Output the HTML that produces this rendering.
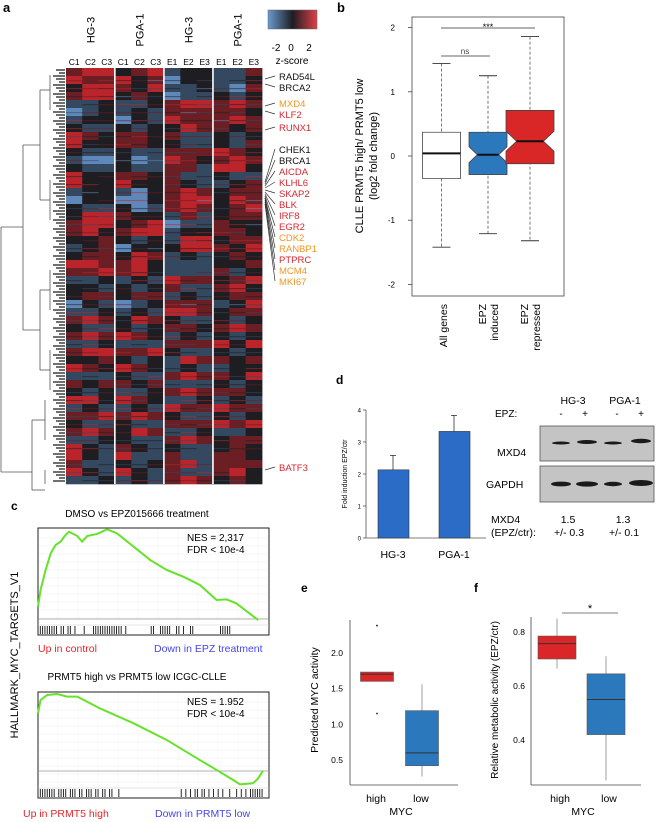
<!DOCTYPE html>
<html><head><meta charset="utf-8"><style>
html,body{margin:0;padding:0;background:#fff;}
svg{display:block;font-family:"Liberation Sans",sans-serif;}
</style></head><body>
<svg id="fig" width="656" height="822" viewBox="0 0 656 822" xmlns="http://www.w3.org/2000/svg">
<g id="pa"></g>
<g id="pb"></g>
<g id="pc"></g>
<g id="pd"></g>
<g id="pe"></g>
<g id="pf"></g>
</svg>
<script>
// ---------- DATA ----------
const heatCols = ['C1','C2','C3','C1','C2','C3','E1','E2','E3','E1','E2','E3'];
const heatGroups = ['HG-3','PGA-1','HG-3','PGA-1'];
const heatRows = [
"rRRkrRbkkbbr","RrrRkrBkkbbk","kRRrkRbbkbBr","rRRkrkBbbkbk","bbkbbkrRRrRr","Bbkbkbrrrrrk",
"bkkBkbRrrrRr","kbbkbkkRrrkr","Rrkrrkrbbkbk","Rkkrrkkbbkbr","kbbkbbrrrRrk","bBBkBbRrkrRr",
"kbbkbbrrbRRk","Rkkrrkrbbkbb","RkkRkkrkbbkr","bkkbBkrRrkrr","BkkBBkrRRkRr","kbbkBbrRrkrR",
"kRRrkkbrbkrr","rRRkrRBbbrkk","rRkrRRbkkrrk","kkrkbkbRRkrr","bkrBkkkRRrkR","krrkRrbkbkrk",
"RRrrRkbbbkkr","rrRrRkbbbrbk","bbkbkbRrrkrR","kkbkbkrbbrRk","krrkrrbkbkrr","BkbBbkrrrbkR",
"bbkbkbRRrkrr","rRrkRrkbbkbk","kbbkbkrrkrRr","rRrRrkbkbkbk","bbkbbbrrrRkR","rRRrrRkbbkbk",
"kkrkbkbRrrkr","RrkRrkbkbbkk","bbbkbbrRrrkR","rkrrkrbbbkbk","kbkbbkrRrrrk","RRkRrkbbkbkb",
"bkbbkbRrrRrr","rrRrRrkbbkbk","kbbkbbrrrRrR","rRrkRrbbkbbk","bbkkbbrRrkrr","Rkbrkbkbbkrk",
"RkbRbbrbbrrk","rbbkbkrRbrrr","RkbRkbrbbrRk","bbkbkbrRrkrk"];
const geneLabels = ['RAD54L','BRCA2','MXD4','KLF2','RUNX1','CHEK1','BRCA1','AICDA','KLHL6','SKAP2','BLK','IRF8','EGR2','CDK2','RANBP1','PTPRC','MCM4','MKI67','BATF3'];
const geneColors = ['k','k','o','r','r','k','k','r','r','r','r','r','r','o','o','r','o','o','r'];

const bCats = ['All genes','EPZ induced','EPZ repressed'];
const bQ1 = [-0.35,-0.29,-0.12];
const bMed = [0.04,0.02,0.23];
const bQ3 = [0.37,0.37,0.71];
const bLo = [-1.42,-1.21,-1.32];
const bHi = [1.44,1.25,1.86];
const bTicks = [-2,-1,0,1,2];

const es1X = [0,0.011,0.033,0.055,0.076,0.098,0.119,0.134,0.170,0.191,0.213,0.256,0.299,0.342,0.414,0.486,0.557,0.629,0.701,0.773,0.816,0.859,0.953];
const es1Y = [0.082,0.193,0.327,0.438,0.493,0.516,0.56,0.582,0.553,0.516,0.553,0.567,0.598,0.571,0.482,0.393,0.327,0.282,0.227,0.127,0.131,0.104,-0.007];
const hits1 = [0.01,0.02,0.03,0.04,0.05,0.06,0.07,0.08,0.1,0.11,0.13,0.14,0.16,0.2,0.24,0.25,0.26,0.27,0.28,0.29,0.3,0.31,0.32,0.33,0.34,0.35,0.36,0.38,0.49,0.5,0.53,0.54,0.55,0.56,0.57,0.6,0.61,0.63,0.66,0.67,0.79,0.8,0.81,0.82,0.83];
const es2X = [0,0.011,0.04,0.083,0.126,0.17,0.27,0.414,0.557,0.701,0.773,0.845,0.874,0.931,0.953,0.974];
const es2Y = [0.385,0.473,0.507,0.513,0.496,0.496,0.416,0.318,0.207,0.073,0.007,-0.06,-0.089,-0.082,-0.049,0.002];
const hits2 = [0.01,0.02,0.03,0.04,0.05,0.06,0.07,0.09,0.1,0.11,0.12,0.14,0.15,0.16,0.18,0.19,0.21,0.22,0.23,0.25,0.26,0.28,0.29,0.31,0.32,0.35,0.62,0.64,0.66,0.68,0.69,0.71,0.72,0.74,0.76,0.78,0.8,0.83,0.86,0.88,0.9,0.92,0.93,0.94,0.95,0.96,0.97];

const dCats = ['HG-3','PGA-1'];
const dVals = [2.13,3.33];
const dErr = [0.45,0.5];
const dTicks = [0,1,2,3,4];

const eCats = ['high','low'];
const eQ1 = [1.6,0.42], eMed=[1.7,0.6], eQ3=[1.73,1.19], eLo=[1.6,0.27], eHi=[1.73,1.56];
const eOut = [[2.38,1.15],[]];
const eTicks = [0.5,1.0,1.5,2.0];

const fCats = ['high','low'];
const fQ1 = [0.70,0.42], fMed=[0.757,0.55], fQ3=[0.785,0.645], fLo=[0.665,0.25], fHi=[0.85,0.71];
const fTicks = [0.4,0.6,0.8];

// ---------- HELPERS ----------
const NS='http://www.w3.org/2000/svg';
function mk(parent,tag,attrs,text){const e=document.createElementNS(NS,tag);for(const k in attrs)e.setAttribute(k,attrs[k]);if(text!==undefined)e.textContent=text;parent.appendChild(e);return e;}
const pa=document.getElementById('pa'),pb=document.getElementById('pb'),pc=document.getElementById('pc'),pd=document.getElementById('pd'),pe=document.getElementById('pe'),pf=document.getElementById('pf');
let el;

// ---------- PANEL A ----------
el=mk(pa,'text',{x:3,y:12,'font-size':13,'font-weight':'bold'},'a');


const cmap={B:'#5f88ba',b:'#34485f',k:'#1d1d22',r:'#6b1e24',R:'#b9252a'};
const hx0=66,hy0=68,hy1=484,colW=16.25;
function colX(i){return hx0+i*colW+Math.floor(i/3)*0.3;}
const rowH=(hy1-hy0)/heatRows.length;
heatRows.forEach((row,ri)=>{
  for(let ci=0;ci<12;ci++){
    el=mk(pa,'rect',{x:colX(ci),y:hy0+ri*rowH,width:colW+0.5,height:rowH+0.3,fill:cmap[row[ci]]});
    
    
    el=mk(pa,'rect',{x:colX(ci),y:hy0+ri*rowH+rowH*0.5,width:colW+0.5,height:1.2,fill:cmap[row[(ci+ri)%12]],opacity:0.5});
    
    
  }
});
[3,6,9].forEach(g=>{el=mk(pa,'rect',{x:colX(g)-1,y:hy0,width:1.6,height:hy1-hy0,fill:'#fff'});

});
heatCols.forEach((c,i)=>{el=mk(pa,'text',{x:colX(i)+colW/2,y:65,'font-size':8.5,'text-anchor':'middle'},c);

});
heatGroups.forEach((g,i)=>{const cx=colX(i*3)+colW*1.5+4;el=mk(pa,'text',{x:0,y:0,'font-size':11,'text-anchor':'middle',transform:`translate(${cx},${30}) rotate(-90)`},g);

});
// color key
const grad=mk(document.getElementById('fig'),'defs',{});
const lg=mk(grad,'linearGradient',{id:'zg',x1:0,x2:1,y1:0,y2:0});
mk(lg,'stop',{offset:'0','stop-color':'#6a9ad0'});mk(lg,'stop',{offset:'0.5','stop-color':'#1d1d22'});mk(lg,'stop',{offset:'1','stop-color':'#e04048'});
el=mk(pa,'rect',{x:268,y:10,width:49,height:19,fill:'url(#zg)',stroke:'#666','stroke-width':0.5});


[[-2,276],[0,291],[2,309]].forEach(([v,x])=>{el=mk(pa,'text',{x:x,y:51,'font-size':10,'text-anchor':'middle'},String(v));

});
el=mk(pa,'text',{x:292,y:64,'font-size':10,'text-anchor':'middle'},'z-score');


// dendrogram
const dend=[[1,227,1,472],[1,227,23,227],[1,472,32,472],[23,145,23,330],[23,145,40,145],[23,330,40,330],[40,90,40,200],[40,90,50,90],[40,200,50,200],[40,290,40,370],[40,290,50,290],[40,370,50,370],[32,420,32,490],[32,420,45,420],[32,490,45,490],[45,400,45,440],[45,470,45,484],[50,75,50,110],[50,180,50,220],[50,270,50,310],[50,350,50,390]];
dend.forEach(d=>{el=mk(pa,'line',{x1:d[0],y1:d[1],x2:d[2],y2:d[3],stroke:'#555','stroke-width':0.8});

});
for(let y=70;y<484;y+=3){el=mk(pa,'line',{x1:52+((y*7)%9),y1:y,x2:65,y2:y,stroke:'#111','stroke-width':1.2});

}
// gene labels
const gy=[79,90,106,117,130,152,163,174,185,196,207,218,229,240,251,262,273,284,470];
const gAnchor=[79,84,106,111,130,182,184,186,188,190,192,194,196,198,198,200,202,204,470];
const gcol={k:'#111',r:'#d9262e',o:'#f39524'};
geneLabels.forEach((g,i)=>{
  el=mk(pa,'line',{x1:265,y1:gAnchor[i],x2:275,y2:gy[i]-3,stroke:'#333','stroke-width':0.7});
  
  
  el=mk(pa,'text',{x:279,y:gy[i]+1,'font-size':9.5,fill:gcol[geneColors[i]]},g);
  
  
});

// ---------- PANEL B ----------
el=mk(pb,'text',{x:337,y:12,'font-size':13,'font-weight':'bold'},'b');


const bY=v=>156-v*64.2;
const bCx=[441.5,488,530];const bW=[38,38,48];const bFill=['#fff','#2b78bd','#d92727'];
el=mk(pb,'rect',{x:412,y:17,width:152,height:279,fill:'none',stroke:'#444','stroke-width':0.8});


bTicks.forEach(t=>{mk(pb,'line',{x1:408,x2:412,y1:bY(t),y2:bY(t),stroke:'#444','stroke-width':0.8});
el=mk(pb,'text',{x:395,y:bY(t)+3,'font-size':8,'text-anchor':'end'},String(t));

});
bCats.forEach((c,i)=>{
  const cx=bCx[i],w=bW[i];
  el=mk(pb,'line',{x1:cx,x2:cx,y1:bY(bHi[i]),y2:bY(bLo[i]),stroke:'#555','stroke-dasharray':'3,2','stroke-width':0.8});
  
  
  [bHi[i],bLo[i]].forEach(v=>{mk(pb,'line',{x1:cx-9,x2:cx+9,y1:bY(v),y2:bY(v),stroke:'#333','stroke-width':0.9});});
  const x0=cx-w/2,x1=cx+w/2,n=i==0?0:w*0.22;
  const q3=bY(bQ3[i]),q1=bY(bQ1[i]),m=bY(bMed[i]),nh=i==0?0:(i==1?8:10);
  el=mk(pb,'path',{d:`M${x0},${q3}L${x1},${q3}L${x1},${m-nh}L${x1-n},${m}L${x1},${m+nh}L${x1},${q1}L${x0},${q1}L${x0},${m+nh}L${x0+n},${m}L${x0},${m-nh}Z`,fill:bFill[i],stroke:'#444','stroke-width':0.8});
  
  
  el=mk(pb,'line',{x1:x0+n,x2:x1-n,y1:m,y2:m,stroke:'#111','stroke-width':2});
  
  
  const parts=c.split(' ');
  parts.forEach((p,j)=>{const tx=cx+(j-(parts.length-1)/2)*12+4;
    el=mk(pb,'text',{x:0,y:0,'font-size':10.5,'text-anchor':'end',transform:`translate(${tx},304) rotate(-90)`},c=='All genes'?c:p);
    
    });
  if(c=='All genes'){}
});
// fix "All genes" duplicated: remove extra
(function(){const ts=[...pb.querySelectorAll('text')].filter(t=>t.textContent=='All genes');if(ts.length>1){ts[1].remove();ts[0].setAttribute('transform','translate(447,304) rotate(-90)');}})();
el=mk(pb,'line',{x1:441,x2:535,y1:28,y2:28,stroke:'#333','stroke-width':0.8});


el=mk(pb,'text',{x:488,y:30,'font-size':9,'text-anchor':'middle'},'***');


el=mk(pb,'line',{x1:441,x2:490,y1:56,y2:56,stroke:'#333','stroke-width':0.8});


el=mk(pb,'text',{x:465,y:54,'font-size':8,'text-anchor':'middle',fill:'#444'},'ns');


el=mk(pb,'text',{x:0,y:0,'font-size':11,'text-anchor':'middle',transform:'translate(363,156) rotate(-90)'},'CLLE PRMT5 high/ PRMT5 low');


el=mk(pb,'text',{x:0,y:0,'font-size':11,'text-anchor':'middle',transform:'translate(377,156) rotate(-90)'},'(log2 fold change)');



// ---------- PANEL C ----------
el=mk(pc,'text',{x:11,y:510,'font-size':12,'font-weight':'bold'},'c');


el=mk(pc,'text',{x:0,y:0,'font-size':11,'text-anchor':'middle',transform:'translate(18,655) rotate(-90)'},'HALLMARK_MYC_TARGETS_V1');


function gsea(top,bot,zeroY,title,titleY,nes,fdr,hx,hy,hits,lab1,lab2,labY){
  const x0=38,x1=269;
  el=mk(pc,'text',{x:137,y:titleY,'font-size':10,'text-anchor':'middle'},title);
  
  
  for(let g=top+10;g<bot-14;g+=8){mk(pc,'line',{x1:x0,x2:x1,y1:g,y2:g,stroke:'#eee','stroke-width':0.5});}
  for(let g=x0+20;g<x1;g+=20){mk(pc,'line',{x1:g,x2:g,y1:top,y2:bot-14,stroke:'#f0f0f0','stroke-width':0.5});}
  el=mk(pc,'rect',{x:x0,y:top,width:x1-x0,height:bot-top,fill:'none',stroke:'#222','stroke-width':1});
  
  
  mk(pc,'line',{x1:x0,x2:x1,y1:zeroY,y2:zeroY,stroke:'#999','stroke-width':0.7});
  mk(pc,'line',{x1:x0,x2:x1,y1:bot-10,y2:bot-10,stroke:'#ccc','stroke-width':0.6});
  const X=f=>x0+f*(x1-x0),Y=v=>zeroY-v*150;
  el=mk(pc,'polyline',{points:hx.map((f,i)=>X(f)+','+Y(hy[i])).join(' '),fill:'none',stroke:'#66e22a','stroke-width':2});
  
  
  hits.forEach(h=>{el=mk(pc,'line',{x1:X(h),x2:X(h),y1:bot-9,y2:bot-1,stroke:'#111','stroke-width':0.9});
  
  });
  el=mk(pc,'text',{x:187,y:top+13,'font-size':10},nes);
  
  
  el=mk(pc,'text',{x:187,y:top+25,'font-size':10},fdr);
  
  
  el=mk(pc,'text',{x:lab1[1],y:labY,'font-size':10.5,fill:'#e3262a'},lab1[0]);
  
  
  el=mk(pc,'text',{x:lab2[1],y:labY,'font-size':10.5,fill:'#4646f0'},lab2[0]);
  
  
}
gsea(528,635,619,'DMSO vs EPZ015666 treatment',517,'NES = 2,317','FDR < 10e-4',es1X,es1Y,hits1,['Up in control',38],['Down in EPZ treatment',154],652);
gsea(692,798,771,'PRMT5 high vs PRMT5 low ICGC-CLLE',680,'NES = 1.952','FDR < 10e-4',es2X,es2Y,hits2,['Up in PRMT5 high',23],['Down in PRMT5 low',155],817);

// ---------- PANEL D ----------
el=mk(pd,'text',{x:336,y:384,'font-size':12,'font-weight':'bold'},'d');


const dY=v=>538-v*32;
mk(pd,'line',{x1:366,x2:366,y1:dY(4),y2:dY(0),stroke:'#555','stroke-width':0.8});
mk(pd,'line',{x1:366,x2:486,y1:dY(0),y2:dY(0),stroke:'#555','stroke-width':0.8});
dTicks.forEach(t=>{mk(pd,'line',{x1:363,x2:366,y1:dY(t),y2:dY(t),stroke:'#555','stroke-width':0.8});
el=mk(pd,'text',{x:361,y:dY(t)+2.5,'font-size':6,'text-anchor':'end'},String(t));

});
const dCx=[393,454];
dCats.forEach((c,i)=>{
  el=mk(pd,'rect',{x:dCx[i]-15,y:dY(dVals[i]),width:31,height:dY(0)-dY(dVals[i]),fill:'#2a6cc6',stroke:'#333','stroke-width':0.6});
  
  
  el=mk(pd,'line',{x1:dCx[i],x2:dCx[i],y1:dY(dVals[i]),y2:dY(dVals[i]+dErr[i]),stroke:'#333','stroke-width':0.8});
  
  
  mk(pd,'line',{x1:dCx[i]-3,x2:dCx[i]+3,y1:dY(dVals[i]+dErr[i]),y2:dY(dVals[i]+dErr[i]),stroke:'#333','stroke-width':0.8});
  el=mk(pd,'text',{x:dCx[i],y:558,'font-size':10.5,'text-anchor':'middle'},c);
  
  
});
el=mk(pd,'text',{x:0,y:0,'font-size':7,'text-anchor':'middle',transform:'translate(347,474) rotate(-90)'},'Fold induction EPZ/ctr');


// blot
[['HG-3',573],['PGA-1',625]].forEach(([t,x])=>{el=mk(pd,'text',{x:x,y:404,'font-size':10.5,'text-anchor':'middle'},t);

});
el=mk(pd,'text',{x:495,y:417,'font-size':10},'EPZ:');


[['-',561],['+',585],['-',617],['+',641]].forEach(([t,x])=>{el=mk(pd,'text',{x:x,y:417,'font-size':10,'text-anchor':'middle'},t);

});
el=mk(pd,'rect',{x:540,y:426,width:114,height:35,fill:'#c4c4c4',stroke:'#555','stroke-width':0.8});


el=mk(pd,'rect',{x:540,y:466,width:114,height:36,fill:'#c4c4c4',stroke:'#555','stroke-width':0.8});


[[561,443,9,1.5],[587,442,10,2],[613,443,9,1.5],[641,441,10,2.2],[561,484,10,2.4],[587,484,11,2.6],[613,484,9,2.2],[641,483,12,3]].forEach(b=>{
  el=mk(pd,'ellipse',{cx:b[0],cy:b[1],rx:b[2],ry:b[3],fill:'#1a1a1a'});
  
  });
el=mk(pd,'text',{x:497,y:456,'font-size':10.5},'MXD4');


el=mk(pd,'text',{x:486,y:488,'font-size':10.5},'GAPDH');


[['MXD4',491,523],['(EPZ/ctr):',491,536],['1.5',568,523],['+/- 0.3',569,536],['1.3',623,523],['+/- 0.1',624,536]].forEach(([t,x,y])=>{
  el=mk(pd,'text',{x:x,y:y,'font-size':10.5,'text-anchor':x>500?'middle':'start'},t);
  
  });

// ---------- PANEL E ----------
el=mk(pe,'text',{x:301,y:592,'font-size':12,'font-weight':'bold'},'e');


const eY=v=>760-(v-0.5)*71.5;
const eCx=[377,422],eFill=['#da2628','#2c78bd'];
mk(pe,'line',{x1:350,x2:350,y1:620,y2:785,stroke:'#444','stroke-width':0.8});
mk(pe,'line',{x1:350,x2:458,y1:785,y2:785,stroke:'#444','stroke-width':0.8});
eTicks.forEach(t=>{el=mk(pe,'text',{x:343,y:eY(t)+3,'font-size':8.5,'text-anchor':'end'},t.toFixed(1));

});
eCats.forEach((c,i)=>{
  const cx=eCx[i];
  el=mk(pe,'line',{x1:cx,x2:cx,y1:eY(eHi[i]),y2:eY(eLo[i]),stroke:'#888','stroke-width':0.8});
  
  
  el=mk(pe,'rect',{x:cx-16.5,y:eY(eQ3[i]),width:33,height:eY(eQ1[i])-eY(eQ3[i]),fill:eFill[i],stroke:'#555','stroke-width':0.6});
  
  
  el=mk(pe,'line',{x1:cx-16.5,x2:cx+16.5,y1:eY(eMed[i]),y2:eY(eMed[i]),stroke:'#333','stroke-width':1});
  
  
  eOut[i].forEach(o=>{el=mk(pe,'circle',{cx:cx,cy:eY(o),r:0.9,fill:'#222'});
  
  });
  el=mk(pe,'text',{x:cx-1,y:802,'font-size':10.5,'text-anchor':'middle'},c);
  
  
});
el=mk(pe,'text',{x:401,y:815,'font-size':10.5,'text-anchor':'middle'},'MYC');


el=mk(pe,'text',{x:0,y:0,'font-size':10.5,'text-anchor':'middle',transform:'translate(318,700) rotate(-90)'},'Predicted MYC activity');



// ---------- PANEL F ----------
el=mk(pf,'text',{x:474,y:592,'font-size':12,'font-weight':'bold'},'f');


const fY=v=>686-(v-0.6)*270;
const fCx=[557,606];
mk(pf,'line',{x1:531,x2:531,y1:617,y2:785,stroke:'#444','stroke-width':0.8});
mk(pf,'line',{x1:531,x2:641,y1:785,y2:785,stroke:'#444','stroke-width':0.8});
fTicks.forEach(t=>{el=mk(pf,'text',{x:525,y:fY(t)+3,'font-size':8.5,'text-anchor':'end'},t.toFixed(1));

});
fCats.forEach((c,i)=>{
  const cx=fCx[i];
  el=mk(pf,'line',{x1:cx,x2:cx,y1:Math.max(617,fY(fHi[i])),y2:fY(fLo[i]),stroke:'#888','stroke-width':0.8});
  
  
  el=mk(pf,'rect',{x:cx-19,y:fY(fQ3[i]),width:38,height:fY(fQ1[i])-fY(fQ3[i]),fill:eFill[i],stroke:'#555','stroke-width':0.6});
  
  
  el=mk(pf,'line',{x1:cx-19,x2:cx+19,y1:fY(fMed[i]),y2:fY(fMed[i]),stroke:'#333','stroke-width':1});
  
  
  el=mk(pf,'text',{x:cx+3,y:802,'font-size':10.5,'text-anchor':'middle'},c);
  
  
});
el=mk(pf,'line',{x1:562,x2:618,y1:613,y2:613,stroke:'#555','stroke-width':0.8});


el=mk(pf,'text',{x:590,y:612,'font-size':11,'text-anchor':'middle'},'*');


el=mk(pf,'text',{x:583,y:815,'font-size':10.5,'text-anchor':'middle'},'MYC');


el=mk(pf,'text',{x:0,y:0,'font-size':10,'text-anchor':'middle',transform:'translate(498,700) rotate(-90)'},'Relative metabolic activity  (EPZ/ctr)');


</script>
</body></html>
